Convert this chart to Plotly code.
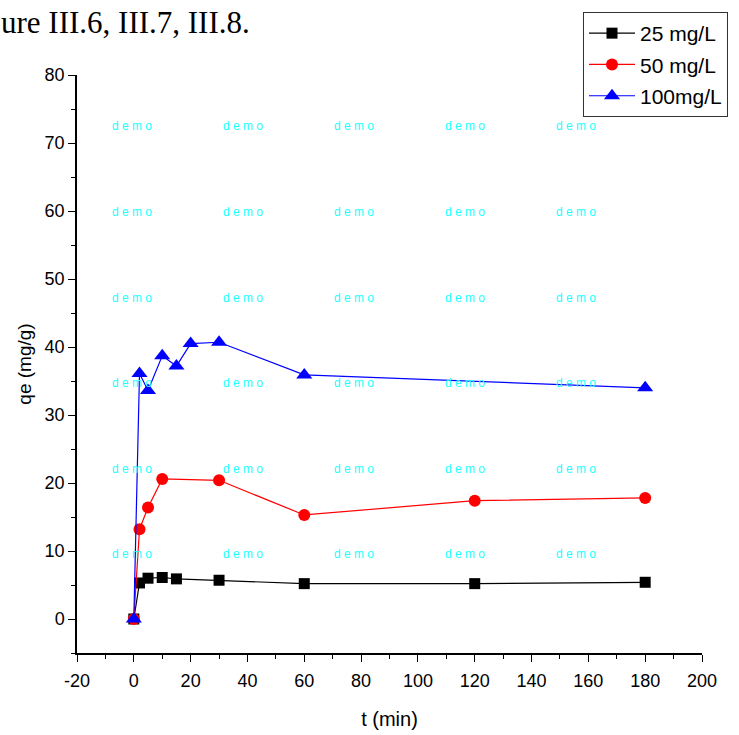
import plotly.graph_objects as go

# Adsorption kinetics: qe (mg/g) versus contact time t (min) for three initial concentrations
t_25 = [0, 2, 5, 10, 15, 30, 60, 120, 180]
qe_25 = [0, 5.3, 6.0, 6.1, 5.9, 5.7, 5.2, 5.2, 5.4]

t_50 = [0, 2, 5, 10, 30, 60, 120, 180]
qe_50 = [0, 13.2, 16.4, 20.6, 20.4, 15.3, 17.4, 17.8]

t_100 = [0, 2, 5, 10, 15, 20, 30, 60, 180]
qe_100 = [0, 36.1, 33.6, 38.7, 37.2, 40.5, 40.7, 35.9, 34.0]

series_names = ["25 mg/L", "50 mg/L", "100mg/L"]

x_ticks = [-20, 0, 20, 40, 60, 80, 100, 120, 140, 160, 180, 200]
y_ticks = [0, 10, 20, 30, 40, 50, 60, 70, 80]

W, H = 739, 735
L, R, T, B = 77, 37, 75, 82
PW, PH = W - L - R, H - T - B

FONT = "Liberation Sans, Arial, sans-serif"


def px_to_paper(px, py):
    return (px - L) / PW, (H - B - py) / PH


fig = go.Figure()

styles = [
    (t_25, qe_25, "#000000", dict(symbol="square", size=11)),
    (t_50, qe_50, "#ff0000", dict(symbol="circle", size=12)),
    (t_100, qe_100, "#0000ff", dict(symbol="triangle-up", size=14)),
]
for i, (tx, qy, col, mk) in enumerate(styles):
    fig.add_trace(go.Scatter(
        x=tx, y=qy, mode="lines+markers", name=series_names[i],
        legendgroup=f"g{i}",
        line=dict(color=col, width=1.2),
        marker=dict(color=col, line=dict(width=0), **mk),
    ))

annotations = []
# "demo" watermark grid
for py in [126, 212, 298, 383, 469, 554]:
    for px in [132, 243, 354, 465, 576]:
        ax, ay = px_to_paper(px, py)
        annotations.append(dict(
            x=ax, y=ay, xref="paper", yref="paper", text="d e m o",
            showarrow=False, xanchor="center", yanchor="middle",
            font=dict(family=FONT, size=12, color="#22ffff"),
        ))

# caption fragment in the page header
cx, cy = px_to_paper(-1, 23)
annotations.append(dict(
    x=cx, y=cy, xref="paper", yref="paper", text="ure III.6, III.7, III.8.",
    showarrow=False, xanchor="left", yanchor="middle",
    font=dict(family="Liberation Serif, Times New Roman, serif", size=31, color="#000000"),
))

axis_common = dict(
    showgrid=False, zeroline=False, showline=True, linecolor="#000000", linewidth=1.5,
    ticks="outside", ticklen=7, tickwidth=1.3, tickcolor="#000000",
    tickfont=dict(family=FONT, size=18, color="#000000"),
    mirror=False,
)

lx, ly = px_to_paper(583, 12)
fig.update_layout(
    width=W, height=H,
    margin=dict(l=L, r=R, t=T, b=B, autoexpand=False),
    paper_bgcolor="white", plot_bgcolor="white",
    showlegend=True,
    legend=dict(
        x=lx, y=ly, xanchor="left", yanchor="top",
        bgcolor="white", bordercolor="#333333", borderwidth=1,
        font=dict(family=FONT, size=21, color="#000000"),
        tracegroupgap=1, itemwidth=46,
    ),
    xaxis=dict(
        range=[-20, 200],
        tickvals=x_ticks, ticktext=[str(v) for v in x_ticks],
        ticklabelstandoff=4,
        minor=dict(ticks="outside", dtick=10, ticklen=4, tickwidth=1.2, tickcolor="#000000"),
        title=dict(text="t (min)", font=dict(family=FONT, size=20, color="#000000"), standoff=22),
        **axis_common,
    ),
    yaxis=dict(
        range=[-5, 80],
        tickvals=y_ticks, ticktext=[str(v) for v in y_ticks],
        minor=dict(ticks="outside", dtick=5, ticklen=4, tickwidth=1.2, tickcolor="#000000"),
        title=dict(text="qe (mg/g)", font=dict(family=FONT, size=19, color="#000000"), standoff=8),
        **axis_common,
    ),
    annotations=annotations,
)

fig.write_html("out.html")
